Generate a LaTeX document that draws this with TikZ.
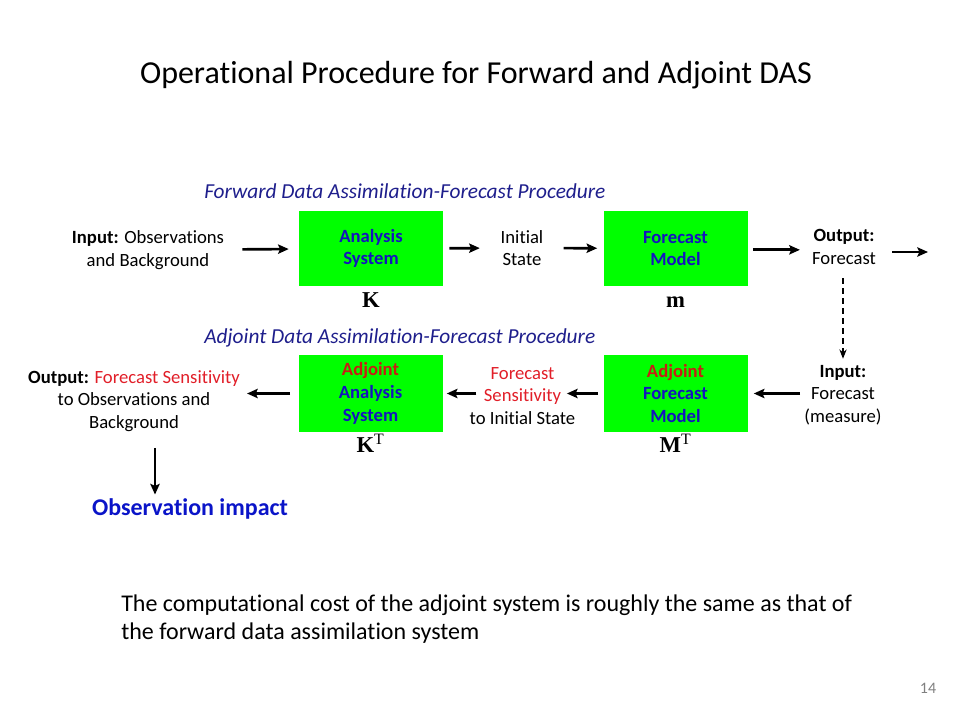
\documentclass[tikz,border=0pt]{standalone}
\usepackage{fontspec}
\setmainfont[Ligatures=NoCommon]{Carlito}
\newfontfamily\matfont{Liberation Serif}
\usetikzlibrary{arrows.meta}
\definecolor{boxgreen}{RGB}{0,255,0}
\definecolor{boxblue}{RGB}{20,20,190}
\definecolor{boxred}{RGB}{200,30,20}
\definecolor{navyblue}{RGB}{30,30,140}
\definecolor{sensred}{RGB}{225,30,40}
\definecolor{impactblue}{RGB}{10,20,200}
\tikzset{
  dasbox/.style={
    rectangle,
    minimum width=108pt,
    minimum height=56.5pt,
    align=center,
    inner sep=0pt,
    fill=boxgreen,
    text=boxblue,
    font=\fontsize{14}{17}\selectfont\bfseries
    },
  plain/.style={
    inner sep=0pt,
    align=center,
    font=\fontsize{14}{17}\selectfont
    },
  procname/.style={
    inner sep=0pt,
    anchor=base west,
    text=navyblue,
    font=\fontsize{16}{19}\selectfont\itshape
    },
  matlbl/.style={
    inner sep=0pt,
    anchor=base,
    font=\fontsize{17}{20}\matfont\bfseries
    },
  arrow/.style={line width=2pt,-{Stealth[length=8pt,width=7pt,inset=1.5pt]}},
  dasharrow/.style={line width=0.8pt,dash pattern=on 4.5pt off 3pt,
    -{Stealth[length=7pt,width=5.5pt]}},
}
\begin{document}
\begin{tikzpicture}[x=0.75pt,y=-0.75pt]
\useasboundingbox (0,0) rectangle (960,720);
\node (title) [inner sep=0pt,anchor=base,font=\fontsize{24}{28}\selectfont] at (476,84)
  {Operational Procedure for Forward and Adjoint DAS};

% forward procedure
\node (fwdname) [procname] at (204,199) {Forward Data Assimilation-Forecast Procedure};
\node (input) [plain] at (148,250) {\textbf{Input:} Observations\\and Background};
\node (anl) [dasbox] at (371,248.5) {Analysis\\System};
\node (init) [plain] at (522,248) {Initial\\State};
\node (fcm) [dasbox] at (675.5,248.5) {Forecast\\Model};
\node (fcout) [plain] at (844,247) {\textbf{Output:}\\Forecast};
\coordinate (fcend) at (928,252);
\node (kf) [matlbl] at ([yshift=-15.75pt]anl.south) {K};
\node (mf) [matlbl] at ([yshift=-15.75pt]fcm.south) {m};

\draw[arrow,shorten <=13.5pt,shorten >=7.5pt] (input) -- (anl);
\draw[arrow,shorten <=4.5pt,shorten >=15.5pt] (anl) -- (init);
\draw[arrow,shorten <=15pt,shorten >=4.5pt] (init) -- (fcm);
\draw[arrow,shorten <=3.75pt,shorten >=9pt] ([yshift=-1pt]fcm.east) -- ([yshift=-1pt]fcout.west |- fcm.east);
\draw[arrow,shorten <=12pt] (fcout.east |- fcend) -- (fcend);

% adjoint procedure
\node (adjname) [procname] at (204,343) {Adjoint Data Assimilation-Forecast Procedure};
\node (adjanl) [dasbox,minimum height=58pt] at (370.5,393.5) {\textcolor{boxred}{Adjoint}\\Analysis\\System};
\node (sens) [plain] at (522.5,396) {\textcolor{sensred}{Forecast}\\\textcolor{sensred}{Sensitivity}\\to Initial State};
\node (adjfcm) [dasbox,minimum height=58pt] at (675.5,393.5) {\textcolor{boxred}{Adjoint}\\Forecast\\Model};
\node (measure) [plain] at (843,395) {\textbf{Input:}\\Forecast\\(measure)};
\node (sensout) [plain] at (134,401) {\textbf{Output:} \textcolor{sensred}{Forecast Sensitivity}\\to Observations and\\Background};
\node (kt) [matlbl] at ([yshift=-15pt]adjanl.south) {K\textsuperscript{\normalfont\matfont T}};
\node (mt) [matlbl] at ([yshift=-15pt]adjfcm.south) {M\textsuperscript{\normalfont\matfont T}};
\node (impact) [inner sep=0pt,anchor=base,text=impactblue,font=\fontsize{18}{21}\selectfont\bfseries]
  at (190,515) {Observation impact};

\draw[dasharrow,shorten <=10pt,shorten >=4.5pt] (fcout.south -| measure.north) -- (measure.north);
\draw[arrow,shorten <=3pt,shorten >=4.5pt] (measure.west |- adjfcm.east) -- (adjfcm.east);
\draw[arrow,shorten <=3.75pt] (adjfcm.west) -- ([xshift=-6.5pt]sens.east |- adjfcm.west);
\draw[arrow,shorten >=3pt] ([xshift=5.25pt]sens.west |- adjanl.east) -- (adjanl.east);
\draw[arrow,shorten <=6pt,shorten >=5.25pt] (adjanl.west) -- (sensout.east |- adjanl.west);
\draw[arrow,shorten <=12pt,shorten >=2.5pt] ([xshift=15.75pt]sensout.south) -- ([xshift=15.75pt]sensout.south |- impact.north);

\node (cost) [inner sep=0pt,anchor=base west,align=left,font=\fontsize{18}{21}\selectfont]
  at (121,639) {The computational cost of the adjoint system is roughly the same as that of\\the forward data assimilation system};
\node (pageno) [inner sep=0pt,text=gray,font=\fontsize{12}{14}\selectfont] at (928,688) {14};
\end{tikzpicture}
\end{document}
